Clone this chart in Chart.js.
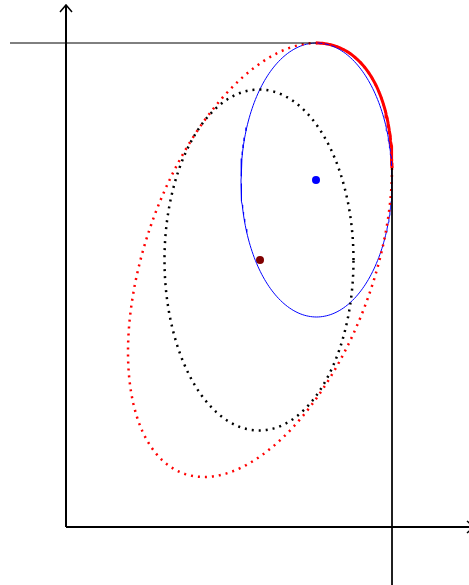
<!DOCTYPE html>
<html>
<head>
<meta charset="utf-8">
<script src="https://cdn.jsdelivr.net/npm/chart.js@4.4.1/dist/chart.umd.min.js"></script>
<style>
  html, body { margin: 0; padding: 0; background: #fff; }
  #wrap { width: 469px; height: 585px; }
</style>
</head>
<body>
<div id="wrap"><canvas id="myChart"></canvas></div>
<script>
// ellipse parameters: [centerX, centerY, halfWidth, halfHeight, correlation]
const redEllipse = [194, 267, 132, 217, 0.424];
const blackEllipse = [193, 267, 94.5, 170.5, 0];
const blueEllipse = [250.5, 347, 75.5, 137, 0];

const blueCenter = [{ x: 250, y: 347 }];
const redCenter = [{ x: 194, y: 267 }];

// guide lines touching the ellipse extremes
const topLine = [{ x: -56, y: 484 }, { x: 250, y: 484 }];
const rightLine = [{ x: 326, y: 359 }, { x: 326, y: -58 }];

// axis ranges
const xRange = [-66, 403];
const yRange = [-58, 527];

function ellipsePoints(e, t0, t1, n) {
    const [cx, cy, w, h, rho] = e;
    const s = Math.sqrt(1 - rho * rho);
    const pts = [];
    for (let i = 0; i <= n; i++) {
        const t = t0 + (t1 - t0) * i / n;
        pts.push({
            x: cx + w * Math.cos(t),
            y: cy + h * (rho * Math.cos(t) + s * Math.sin(t))
        });
    }
    return pts;
}

const full = 2 * Math.PI;
const arcEnd = Math.acos(redEllipse[4]);

const axesPlugin = {
    id: 'axesPlugin',
    afterDatasetsDraw(chart) {
        const ctx = chart.ctx;
        const xs = chart.scales.x, ys = chart.scales.y;
        const ox = xs.getPixelForValue(0), oy = ys.getPixelForValue(0);
        const topY = ys.getPixelForValue(522);
        const rightX = xs.getPixelForValue(408);
        ctx.save();
        ctx.strokeStyle = '#000';
        ctx.lineWidth = 2;
        ctx.beginPath();
        ctx.moveTo(ox, oy);
        ctx.lineTo(ox, topY);
        ctx.moveTo(ox, oy);
        ctx.lineTo(rightX, oy);
        ctx.stroke();
        ctx.lineWidth = 1.5;
        ctx.beginPath();
        ctx.moveTo(ox - 6, topY + 7);
        ctx.lineTo(ox, topY);
        ctx.lineTo(ox + 6, topY + 7);
        ctx.moveTo(rightX - 7, oy - 6);
        ctx.lineTo(rightX, oy);
        ctx.lineTo(rightX - 7, oy + 6);
        ctx.stroke();
        ctx.restore();
    }
};

const ctx = document.getElementById('myChart').getContext('2d');
new Chart(ctx, {
    type: 'scatter',
    data: {
        datasets: [
            {
                data: topLine,
                showLine: true,
                borderColor: '#000',
                borderWidth: 1,
                pointRadius: 0
            },
            {
                data: rightLine,
                showLine: true,
                borderColor: '#000',
                borderWidth: 1,
                pointRadius: 0
            },
            {
                data: ellipsePoints(redEllipse, 0, full, 240),
                showLine: true,
                borderColor: 'red',
                borderWidth: 2.5,
                borderDash: [2, 5],
                pointRadius: 0
            },
            {
                data: ellipsePoints(blackEllipse, 0, full, 240),
                showLine: true,
                borderColor: '#000',
                borderWidth: 2.5,
                borderDash: [2, 5],
                pointRadius: 0
            },
            {
                data: ellipsePoints(blueEllipse, 0, full, 240),
                showLine: true,
                borderColor: 'blue',
                borderWidth: 1,
                pointRadius: 0
            },
            {
                data: ellipsePoints(redEllipse, 0, arcEnd, 60),
                showLine: true,
                borderColor: 'red',
                borderWidth: 3,
                pointRadius: 0
            },
            {
                data: blueCenter,
                backgroundColor: 'blue',
                borderWidth: 0,
                pointRadius: 4
            },
            {
                data: redCenter,
                backgroundColor: '#800000',
                borderWidth: 0,
                pointRadius: 4
            }
        ]
    },
    options: {
        responsive: true,
        maintainAspectRatio: false,
        animation: false,
        layout: { padding: 0, autoPadding: false },
        plugins: {
            legend: { display: false },
            tooltip: { enabled: false }
        },
        elements: { line: { tension: 0 } },
        scales: {
            x: { type: 'linear', min: xRange[0], max: xRange[1], display: false },
            y: { type: 'linear', min: yRange[0], max: yRange[1], display: false }
        }
    },
    plugins: [axesPlugin]
});
</script>
</body>
</html>
